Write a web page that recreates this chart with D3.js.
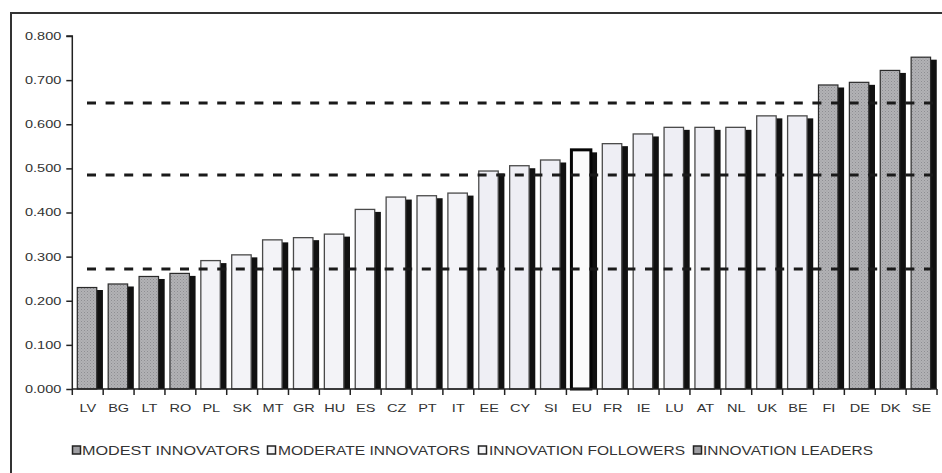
<!DOCTYPE html>
<html>
<head>
<meta charset="utf-8">
<script src="https://cdn.jsdelivr.net/npm/d3@7"></script>
<style>
  html, body { margin: 0; padding: 0; background: #fff; }
  svg { display: block; }
  text { font-family: "Liberation Sans", Arial, sans-serif; }
</style>
</head>
<body>
<svg id="chart" width="942" height="473"></svg>
<script>
// ---- data ----
const categories = ["LV","BG","LT","RO","PL","SK","MT","GR","HU","ES","CZ","PT","IT","EE","CY","SI","EU","FR","IE","LU","AT","NL","UK","BE","FI","DE","DK","SE"];
const values = [0.230,0.238,0.255,0.262,0.291,0.304,0.338,0.343,0.351,0.407,0.435,0.438,0.444,0.494,0.506,0.519,0.542,0.556,0.578,0.593,0.593,0.593,0.619,0.619,0.689,0.695,0.722,0.752];
const groups = ["modest","modest","modest","modest","moderate","moderate","moderate","moderate","moderate","moderate","moderate","moderate","moderate","followers","followers","followers","eu","followers","followers","followers","followers","followers","followers","followers","leaders","leaders","leaders","leaders"];
const thresholds = [0.272, 0.485, 0.648];
const yTicks = [0, 0.1, 0.2, 0.3, 0.4, 0.5, 0.6, 0.7, 0.8];
const legendLabels = ["MODEST INNOVATORS","MODERATE INNOVATORS","INNOVATION FOLLOWERS","INNOVATION LEADERS"];
const legendGroups = ["modest","moderate","followers","leaders"];

// ---- styles ----
const fills = { modest: "url(#dots)", leaders: "url(#dots)", moderate: "#f3f3f7", followers: "#eeeef4", eu: "#fafafa" };
const strokes = { modest: "#2a2a2a", leaders: "#2a2a2a", moderate: "#4a4a4a", followers: "#4a4a4a", eu: "#050505" };
const strokeW = { modest: 1.2, leaders: 1.2, moderate: 1.3, followers: 1.3, eu: 3 };

const svg = d3.select("#chart");
const defs = svg.append("defs");
const pat = defs.append("pattern").attr("id", "dots").attr("patternUnits", "userSpaceOnUse")
  .attr("width", 3).attr("height", 3);
pat.append("rect").attr("width", 3).attr("height", 3).attr("fill", "#b2b2b5");
pat.append("rect").attr("x", 0).attr("y", 0).attr("width", 1).attr("height", 1).attr("fill", "#8e8e92");
pat.append("rect").attr("x", 1.5).attr("y", 1.5).attr("width", 1).attr("height", 1).attr("fill", "#9a9a9e");

// outer frame
svg.append("rect").attr("x", 11).attr("y", 13).attr("width", 945).attr("height", 475)
  .attr("fill", "none").attr("stroke", "#333").attr("stroke-width", 2);

const pLeft = 72.3, pRight = 937, pTop = 36, pBottom = 389;
const x = d3.scaleBand().domain(categories).range([pLeft, pRight]).padding(0);
const y = d3.scaleLinear().domain([0, 0.8]).range([pBottom, pTop]);
const bw = x.bandwidth();
const barOff = bw * 0.162, barW = bw * 0.63, shOff = bw * 0.2;

function stretch(sel, factor) {
  sel.each(function() {
    const len = this.getComputedTextLength();
    d3.select(this).attr("textLength", len * factor).attr("lengthAdjust", "spacingAndGlyphs");
  });
}

// shadows
const data = categories.map((c, i) => ({ c, v: values[i], g: groups[i] }));
svg.append("g").selectAll("rect").data(data).join("rect")
  .attr("x", d => x(d.c) + barOff + shOff)
  .attr("y", d => y(d.v) + 2.5)
  .attr("width", barW)
  .attr("height", d => pBottom - y(d.v) - 2.5)
  .attr("fill", "#111");

// main bars
svg.append("g").selectAll("rect").data(data).join("rect")
  .attr("x", d => x(d.c) + barOff)
  .attr("y", d => y(d.v))
  .attr("width", barW)
  .attr("height", d => pBottom - y(d.v))
  .attr("fill", d => fills[d.g])
  .attr("stroke", d => strokes[d.g])
  .attr("stroke-width", d => strokeW[d.g]);

// threshold dashed lines
svg.append("g").selectAll("line").data(thresholds).join("line")
  .attr("x1", 87).attr("x2", 936)
  .attr("y1", d => y(d)).attr("y2", d => y(d))
  .attr("stroke", "#1a1a1a").attr("stroke-width", 3)
  .attr("stroke-dasharray", "9,9.6");

// y axis
const yAxis = svg.append("g").attr("transform", `translate(${pLeft},0)`)
  .call(d3.axisLeft(y).tickValues(yTicks).tickFormat(d3.format(".3f")).tickSize(6).tickPadding(5));
yAxis.select(".domain").attr("stroke", "#222").attr("stroke-width", 1.5).attr("d", `M-6,${pTop}H0V${pBottom}`);
yAxis.selectAll(".tick line").attr("stroke", "#222").attr("stroke-width", 1.5);
yAxis.selectAll(".tick text").attr("fill", "#333").attr("font-size", 10.5).attr("font-family", "Liberation Sans, Arial, sans-serif")
  .attr("x", -11);
stretch(yAxis.selectAll(".tick text"), 1.38);

// x axis
const xAxis = svg.append("g").attr("transform", `translate(0,${pBottom})`)
  .call(d3.axisBottom(x).tickSize(0).tickPadding(15));
xAxis.select(".domain").attr("stroke", "#222").attr("stroke-width", 1.5).attr("d", `M${pLeft},0H${pRight}`);
xAxis.selectAll(".tick text").attr("fill", "#333").attr("font-size", 11).attr("font-family", "Liberation Sans, Arial, sans-serif");
stretch(xAxis.selectAll(".tick text"), 1.32);
// tick marks at band boundaries
const bounds = categories.map(c => x(c)).concat([pRight]);
xAxis.append("g").selectAll("line").data(bounds).join("line")
  .attr("x1", d => d).attr("x2", d => d).attr("y1", 0).attr("y2", 6)
  .attr("stroke", "#222").attr("stroke-width", 1.5);

// legend
const legBoxX = [72, 267, 478, 693];
const legTextX = [82, 278, 489, 703];
const legTextW = [178, 192, 196, 170];
const leg = svg.append("g");
legendGroups.forEach((g, i) => {
  leg.append("rect").attr("x", legBoxX[i] + 0.5).attr("y", 446).attr("width", 8).attr("height", 8)
    .attr("fill", (g === "modest" || g === "leaders") ? "#9e9ea2" : "#f6f6f8")
    .attr("stroke", "#222").attr("stroke-width", 1.5);
  leg.append("text").attr("x", legTextX[i]).attr("y", 455)
    .attr("font-size", 12).attr("fill", "#333")
    .attr("textLength", legTextW[i]).attr("lengthAdjust", "spacingAndGlyphs")
    .text(legendLabels[i]);
});
</script>
</body>
</html>
